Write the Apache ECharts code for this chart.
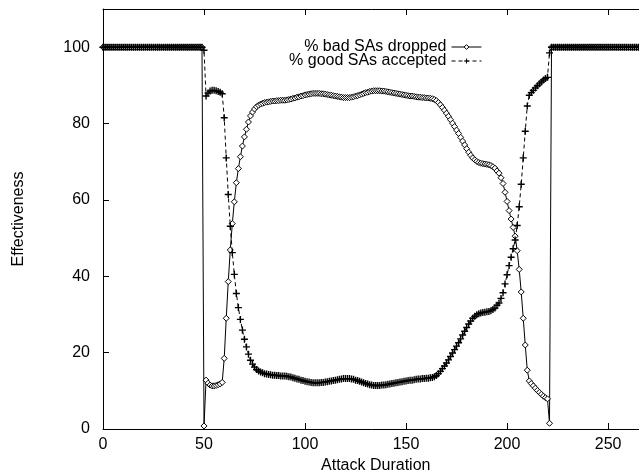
<!DOCTYPE html>
<html>
<head>
<meta charset="utf-8">
<script src="https://cdn.jsdelivr.net/npm/echarts@6/dist/echarts.min.js"></script>
<style>
  html, body { margin: 0; padding: 0; background: #fff; }
  #chart { width: 639px; height: 472px; }
</style>
</head>
<body>
<div id="chart"></div>
<script>
// x runs from 0 to 270, one sample per unit
const xStart = 0
const xTicks = [0, 50, 100, 150, 200, 250]
const yTicks = [0, 20, 40, 60, 80, 100]
const seriesNames = ['% bad SAs dropped', '% good SAs accepted']

// % bad SAs dropped, x = 0..270
const badDropped = [
  100, 100, 100, 100, 100, 100, 100, 100, 100, 100,
  100, 100, 100, 100, 100, 100, 100, 100, 100, 100,
  100, 100, 100, 100, 100, 100, 100, 100, 100, 100,
  100, 100, 100, 100, 100, 100, 100, 100, 100, 100,
  100, 100, 100, 100, 100, 100, 100, 100, 100, 100,
  // 50
  0.8, 12.8, 12.0, 11.5, 11.3, 11.3, 11.4, 11.6, 11.8, 12.2,
  // 60
  18.5, 29.0, 38.6, 46.9, 53.8, 59.5, 64.5, 68.2, 71.3, 74.1,
  // 70
  76.5, 78.5, 80.4, 82.0, 83.0, 83.8, 84.4, 84.8, 85.1, 85.3,
  // 80
  85.5, 85.6, 85.7, 85.8, 85.9, 85.9, 86.0, 86.0, 86.1, 86.1,
  // 90
  86.1, 86.2, 86.3, 86.4, 86.6, 86.7, 86.9, 87.0, 87.2, 87.3,
  // 100
  87.5, 87.6, 87.7, 87.8, 87.9, 87.9, 87.9, 87.9, 87.8, 87.8,
  // 110
  87.7, 87.6, 87.5, 87.4, 87.3, 87.2, 87.1, 87.0, 86.9, 86.8,
  // 120
  86.8, 86.8, 86.8, 86.9, 87.0, 87.2, 87.3, 87.5, 87.7, 87.9,
  // 130
  88.1, 88.2, 88.4, 88.5, 88.6, 88.6, 88.6, 88.6, 88.5, 88.5,
  // 140
  88.4, 88.3, 88.2, 88.1, 88.0, 87.9, 87.8, 87.7, 87.6, 87.5,
  // 150
  87.4, 87.3, 87.2, 87.2, 87.1, 87.0, 86.9, 86.9, 86.8, 86.8,
  // 160
  86.7, 86.7, 86.6, 86.5, 86.3, 86.0, 85.5, 84.9, 84.2, 83.5,
  // 170
  82.7, 81.9, 81.0, 80.1, 79.2, 78.3, 77.4, 76.4, 75.4, 74.4,
  // 180
  73.4, 72.5, 71.7, 71.0, 70.5, 70.1, 69.8, 69.6, 69.5, 69.4,
  // 190
  69.3, 69.2, 69.0, 68.7, 68.3, 67.6, 67.0, 65.8, 64.3, 62.0,
  // 200
  59.6, 57.2, 55.0, 52.8, 50.5, 46.7, 41.8, 35.9, 29.0, 22.0,
  // 210
  15.4, 12.6, 11.9, 11.3, 10.7, 10.1, 9.6, 9.1, 8.6, 8.2,
  // 220
  7.9, 1.5, 100, 100, 100, 100, 100, 100, 100, 100,
  100, 100, 100, 100, 100, 100, 100, 100, 100, 100,
  100, 100, 100, 100, 100, 100, 100, 100, 100, 100,
  100, 100, 100, 100, 100, 100, 100, 100, 100, 100,
  100, 100, 100, 100, 100, 100, 100, 100, 100, 100,
  100
]

// % good SAs accepted, x = 0..270
const goodAccepted = [
  100, 100, 100, 100, 100, 100, 100, 100, 100, 100,
  100, 100, 100, 100, 100, 100, 100, 100, 100, 100,
  100, 100, 100, 100, 100, 100, 100, 100, 100, 100,
  100, 100, 100, 100, 100, 100, 100, 100, 100, 100,
  100, 100, 100, 100, 100, 100, 100, 100, 100, 100,
  // 50
  99.2, 87.2, 88.0, 88.5, 88.7, 88.7, 88.6, 88.4, 88.2, 87.8,
  // 60
  81.5, 71.0, 61.4, 53.1, 46.2, 40.5, 35.5, 31.8, 28.7, 25.9,
  // 70
  23.5, 21.5, 19.6, 18.0, 17.0, 16.2, 15.6, 15.2, 14.9, 14.7,
  // 80
  14.5, 14.4, 14.3, 14.2, 14.1, 14.1, 14.0, 14.0, 13.9, 13.9,
  // 90
  13.9, 13.8, 13.7, 13.6, 13.4, 13.3, 13.1, 13.0, 12.8, 12.7,
  // 100
  12.5, 12.4, 12.3, 12.2, 12.1, 12.1, 12.1, 12.1, 12.2, 12.2,
  // 110
  12.3, 12.4, 12.5, 12.6, 12.7, 12.8, 12.9, 13.0, 13.1, 13.2,
  // 120
  13.2, 13.2, 13.2, 13.1, 13.0, 12.8, 12.7, 12.5, 12.3, 12.1,
  // 130
  11.9, 11.8, 11.6, 11.5, 11.4, 11.4, 11.4, 11.4, 11.5, 11.5,
  // 140
  11.6, 11.7, 11.8, 11.9, 12.0, 12.1, 12.2, 12.3, 12.4, 12.5,
  // 150
  12.6, 12.7, 12.8, 12.8, 12.9, 13.0, 13.1, 13.1, 13.2, 13.2,
  // 160
  13.3, 13.3, 13.4, 13.5, 13.7, 14.0, 14.5, 15.1, 15.8, 16.5,
  // 170
  17.3, 18.1, 19.0, 19.9, 20.8, 21.7, 22.6, 23.6, 24.6, 25.6,
  // 180
  26.6, 27.5, 28.3, 29.0, 29.5, 29.9, 30.2, 30.4, 30.5, 30.6,
  // 190
  30.7, 30.8, 31.0, 31.3, 31.7, 32.4, 33.0, 34.2, 35.7, 38.0,
  // 200
  40.4, 42.8, 45.0, 47.2, 49.5, 53.3, 58.2, 64.1, 71.0, 78.0,
  // 210
  84.6, 87.4, 88.1, 88.7, 89.3, 89.9, 90.4, 90.9, 91.4, 91.8,
  // 220
  92.1, 98.5, 100, 100, 100, 100, 100, 100, 100, 100,
  100, 100, 100, 100, 100, 100, 100, 100, 100, 100,
  100, 100, 100, 100, 100, 100, 100, 100, 100, 100,
  100, 100, 100, 100, 100, 100, 100, 100, 100, 100,
  100, 100, 100, 100, 100, 100, 100, 100, 100, 100,
  100
]

const font = 'Liberation Sans, Arial, Helvetica, sans-serif'
const plusSymbol = 'path://M4,0H6V4H10V6H6V10H4V6H0V4H4Z'

function toPoints (values) {
  return values.map((v, i) => [xStart + i, v])
}

const chart = echarts.init(document.getElementById('chart'), null, { renderer: 'canvas' })

const axisCommon = {
  min: 0,
  splitLine: { show: false },
  axisLine: { show: true, lineStyle: { color: '#000', width: 1 } },
  axisTick: { show: true, inside: true, length: 6, lineStyle: { color: '#000' } }
}

const legendText = { fontFamily: font, fontSize: 16, color: '#000' }

chart.setOption({
  animation: false,
  backgroundColor: '#fff',
  grid: {
    left: 103, top: 9, height: 420, width: 545.5,
    containLabel: false, outerBoundsMode: 'none'
  },
  legend: [
    {
      data: [seriesNames[0]],
      right: 157, top: 39, padding: 0,
      align: 'right', itemWidth: 30, itemHeight: 6,
      textStyle: legendText,
      lineStyle: { color: '#000', width: 1 },
      itemStyle: { color: '#fff', borderColor: '#000', borderWidth: 1 }
    },
    {
      data: [seriesNames[1]],
      right: 157, top: 53, padding: 0,
      align: 'right', itemWidth: 30, itemHeight: 6,
      textStyle: legendText,
      lineStyle: { color: '#000', width: 1, type: [4, 3] },
      itemStyle: { color: '#000', borderWidth: 0 }
    }
  ],
  xAxis: [
    Object.assign({}, axisCommon, {
      type: 'value', max: 270, interval: 50,
      name: 'Attack Duration', nameLocation: 'middle', nameGap: 26,
      nameTextStyle: { fontFamily: font, fontSize: 16, color: '#000' },
      axisLabel: {
        margin: 8, fontFamily: font, fontSize: 16, color: '#000',
        formatter: v => (xTicks.indexOf(v) >= 0 ? String(v) : '')
      }
    }),
    Object.assign({}, axisCommon, {
      type: 'value', max: 270, interval: 50, position: 'top',
      axisLabel: { show: false }
    })
  ],
  yAxis: Object.assign({}, axisCommon, {
    type: 'value', max: 110, interval: 20,
    name: 'Effectiveness', nameLocation: 'middle', nameGap: 76,
    nameTextStyle: { fontFamily: font, fontSize: 16, color: '#000' },
    axisLabel: {
      margin: 13, fontFamily: font, fontSize: 16, color: '#000',
      formatter: v => (yTicks.indexOf(v) >= 0 ? String(v) : '')
    }
  }),
  series: [
    {
      name: seriesNames[0],
      type: 'line',
      data: toPoints(badDropped),
      symbol: 'diamond',
      symbolSize: 6,
      showAllSymbol: true,
      lineStyle: { color: '#000', width: 1 },
      itemStyle: { color: '#fff', borderColor: '#000', borderWidth: 1 }
    },
    {
      name: seriesNames[1],
      type: 'line',
      data: toPoints(goodAccepted),
      symbol: plusSymbol,
      symbolSize: 7,
      showAllSymbol: true,
      lineStyle: { color: '#000', width: 1, type: [4, 3] },
      itemStyle: { color: '#000', borderWidth: 0 }
    }
  ]
})
</script>
</body>
</html>
